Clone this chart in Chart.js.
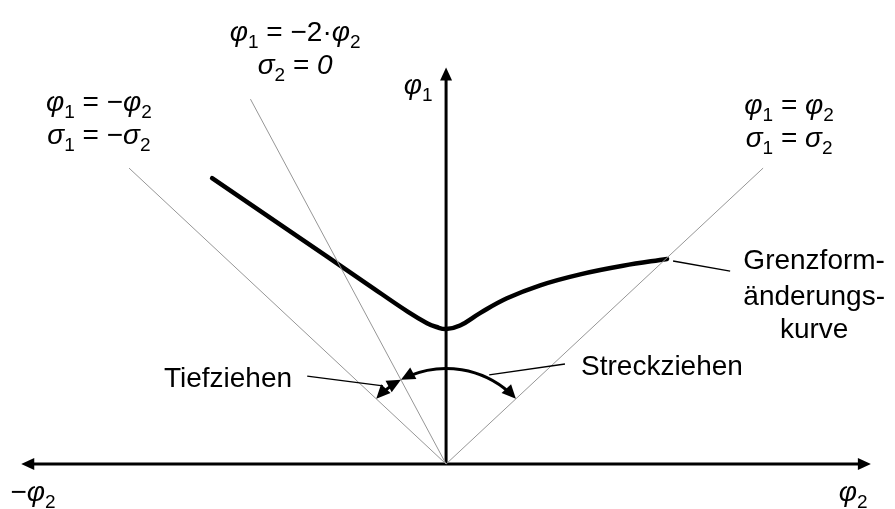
<!DOCTYPE html>
<html>
<head>
<meta charset="utf-8">
<script src="https://cdn.jsdelivr.net/npm/chart.js@4.4.1/dist/chart.umd.min.js"></script>
<style>
	body { margin: 0; background: #fff; }
	#wrap { width: 895px; height: 509px; }
</style>
</head>
<body>
<div id="wrap"><canvas id="mycanvas" width="895" height="509"></canvas></div>
<script>
// Grenzformänderungskurve (phi2 horizontal, phi1 vertical)
var limitX = [-0.738, -0.5, -0.25, -0.12, -0.06, -0.03, 0, 0.044, 0.107, 0.192, 0.297, 0.423, 0.558, 0.697];
var limitY = [0.966, 0.792, 0.609, 0.514, 0.476, 0.463, 0.456, 0.468, 0.510, 0.560, 0.604, 0.641, 0.670, 0.693];

// Belastungspfade durch den Ursprung
var equalX = [0, 1.0],    equalY = [0, 1.0];     // phi1 = phi2
var negX   = [0, -1.0],   negY   = [0, 1.0];     // phi1 = -phi2
var planeX = [0, -0.617], planeY = [0, 1.233];   // phi1 = -2 phi2

var axisLen = 1.34;

function pts(xs, ys) {
	var out = [];
	for (var i in xs) out.push({x: xs[i], y: ys[i]});
	return out;
}

var FONT = '"Liberation Sans", Arial, sans-serif';

// text blocks: each line is a list of segments [text, style]  (s = subscript, i = italic)
var labels = [
	{x: -0.476, y: [1.462, 1.351], lines: [
		[['φ', 'i'], ['1', 's'], [' = −2·'], ['φ', 'i'], ['2', 's']],
		[['σ', 'i'], ['2', 's'], [' = '], ['0', 'i']]
	]},
	{x: -1.095, y: [1.228, 1.114], lines: [
		[['φ', 'i'], ['1', 's'], [' = −'], ['φ', 'i'], ['2', 's']],
		[['σ', 'i'], ['1', 's'], [' = −'], ['σ', 'i'], ['2', 's']]
	]},
	{x: 1.082, y: [1.218, 1.104], lines: [
		[['φ', 'i'], ['1', 's'], [' = '], ['φ', 'i'], ['2', 's']],
		[['σ', 'i'], ['1', 's'], [' = '], ['σ', 'i'], ['2', 's']]
	]},
	{x: -0.088, y: [1.283], lines: [[['φ', 'i'], ['1', 's']]]},
	{x: 1.161, y: [0.692, 0.572, 0.461], lines: [[['Grenzform-']], [['änderungs-']], [['kurve']]]},
	{x: -0.688, y: [0.293], lines: [[['Tiefziehen']]]},
	{x: 0.681, y: [0.334], lines: [[['Streckziehen']]]},
	{x: -1.303, y: [-0.092], lines: [[['−'], ['φ', 'i'], ['2', 's']]]},
	{x: 1.284, y: [-0.092], lines: [[['φ', 'i'], ['2', 's']]]}
];

// Hinweislinien
var leaders = [
	[-0.438, 0.297, -0.199, 0.264],
	[0.136, 0.301, 0.375, 0.338],
	[0.716, 0.686, 0.896, 0.652]
];

function segFont(st) {
	if (st === 's') return '19px ' + FONT;
	if (st === 'i') return 'italic 28px ' + FONT;
	return '28px ' + FONT;
}

function drawRich(ctx, segs, cx, cy) {
	var w = 0;
	segs.forEach(function(s) { ctx.font = segFont(s[1]); w += ctx.measureText(s[0]).width; });
	var x = cx - w / 2;
	ctx.textBaseline = 'alphabetic';
	ctx.textAlign = 'left';
	segs.forEach(function(s) {
		ctx.font = segFont(s[1]);
		ctx.fillText(s[0], x, cy + 10 + (s[1] === 's' ? 7 : 0));
		x += ctx.measureText(s[0]).width;
	});
}

function arrowHead(ctx, tx, ty, dx, dy, len, half) {
	var n = Math.sqrt(dx * dx + dy * dy);
	dx /= n; dy /= n;
	ctx.beginPath();
	ctx.moveTo(tx, ty);
	ctx.lineTo(tx - dx * len - dy * half, ty - dy * len + dx * half);
	ctx.lineTo(tx - dx * len + dy * half, ty - dy * len - dx * half);
	ctx.closePath();
	ctx.fill();
}

// arc around the origin between two angles, arrow heads at both ends
function arcArrow(ctx, ox, oy, r, a0, a1) {
	var trim = 9 / r;
	ctx.beginPath();
	ctx.arc(ox, oy, r, a0 + trim, a1 - trim, false);
	ctx.stroke();
	arrowHead(ctx, ox + r * Math.cos(a1), oy + r * Math.sin(a1), -Math.sin(a1), Math.cos(a1), 14, 6.5);
	arrowHead(ctx, ox + r * Math.cos(a0), oy + r * Math.sin(a0), Math.sin(a0), -Math.cos(a0), 14, 6.5);
}

var axesPlugin = {
	id: 'fld',
	beforeDatasetsDraw: function(chart) {
		var ctx = chart.ctx, xs = chart.scales.x, ys = chart.scales.y;
		var ox = xs.getPixelForValue(0), oy = ys.getPixelForValue(0);
		var l = xs.getPixelForValue(-axisLen), r = xs.getPixelForValue(axisLen), t = ys.getPixelForValue(axisLen);
		ctx.save();
		ctx.strokeStyle = '#000';
		ctx.fillStyle = '#000';
		ctx.lineWidth = 3;
		ctx.beginPath();
		ctx.moveTo(l + 10, oy); ctx.lineTo(r - 10, oy);
		ctx.moveTo(ox, oy); ctx.lineTo(ox, t + 10);
		ctx.stroke();
		arrowHead(ctx, l, oy, -1, 0, 13, 6);
		arrowHead(ctx, r, oy, 1, 0, 13, 6);
		arrowHead(ctx, ox, t, 0, -1, 13, 6);
		ctx.restore();
	},
	afterDraw: function(chart) {
		var ctx = chart.ctx, xs = chart.scales.x, ys = chart.scales.y;
		var ox = xs.getPixelForValue(0), oy = ys.getPixelForValue(0);
		function ang(px, py) {
			return Math.atan2(ys.getPixelForValue(py) - oy, xs.getPixelForValue(px) - ox);
		}
		var aEq = ang(equalX[1], equalY[1]);
		var aNeg = ang(negX[1], negY[1]);
		var aPl = ang(planeX[1], planeY[1]);
		ctx.save();
		ctx.strokeStyle = '#000';
		ctx.fillStyle = '#000';
		ctx.lineWidth = 3;
		arcArrow(ctx, ox, oy, 95.5, aPl, aEq);   // Streckziehen
		arcArrow(ctx, ox, oy, 95.5, aNeg, aPl);  // Tiefziehen

		ctx.lineWidth = 1.3;
		leaders.forEach(function(p) {
			ctx.beginPath();
			ctx.moveTo(xs.getPixelForValue(p[0]), ys.getPixelForValue(p[1]));
			ctx.lineTo(xs.getPixelForValue(p[2]), ys.getPixelForValue(p[3]));
			ctx.stroke();
		});

		labels.forEach(function(lb) {
			lb.lines.forEach(function(segs, k) {
				drawRich(ctx, segs, xs.getPixelForValue(lb.x), ys.getPixelForValue(lb.y[k]));
			});
		});
		ctx.restore();
	}
};

var grey = 'rgba(150, 150, 150, 1)';
function refSet(xs, ys) {
	return { data: pts(xs, ys), borderColor: grey, borderWidth: 1, pointRadius: 0, showLine: true };
}

var ctx = document.getElementById('mycanvas');

var chart = new Chart(ctx, {
	type: 'scatter',
	data: {
		datasets: [
			refSet(equalX, equalY),
			refSet(negX, negY),
			refSet(planeX, planeY),
			{
				data: pts(limitX, limitY),
				borderColor: '#000',
				borderWidth: 4.5,
				borderCapStyle: 'round',
				borderJoinStyle: 'round',
				pointRadius: 0,
				showLine: true,
				tension: 0.4
			}
		]
	},
	options: {
		responsive: false,
		animation: false,
		layout: { padding: 0 },
		plugins: { legend: { display: false }, tooltip: { enabled: false } },
		scales: {
			x: { type: 'linear', display: false, min: -1.407, max: 1.416 },
			y: { type: 'linear', display: false, min: -0.152, max: 1.568 }
		}
	},
	plugins: [axesPlugin]
});
</script>
</body>
</html>
